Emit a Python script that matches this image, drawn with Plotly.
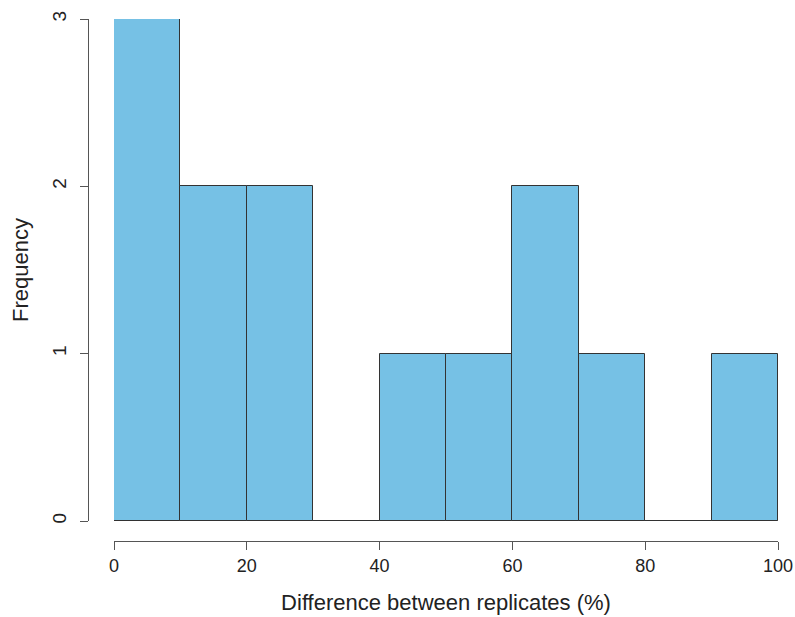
import plotly.graph_objects as go

# Histogram of replicate differences, 10%-wide bins
bin_edges = [0, 10, 20, 30, 40, 50, 60, 70, 80, 90, 100]
counts = [3, 2, 2, 0, 1, 1, 2, 1, 0, 1]
x_ticks = [0, 20, 40, 60, 80, 100]
y_ticks = [0, 1, 2, 3]

centers = [(a + b) / 2 for a, b in zip(bin_edges[:-1], bin_edges[1:])]
widths = [b - a for a, b in zip(bin_edges[:-1], bin_edges[1:])]

FONT = "Liberation Sans, Arial, Helvetica, sans-serif"
AXIS_COL = "#555555"

fig = go.Figure()
fig.add_trace(go.Bar(
    x=centers, y=counts, width=widths,
    marker=dict(color="#76C1E5", line=dict(color="#333333", width=1)),
    showlegend=False, hoverinfo="x+y",
))
# baseline across all bins (empty bins show as a flat edge)
fig.add_trace(go.Scatter(
    x=[bin_edges[0], bin_edges[-1]], y=[0, 0], mode="lines",
    line=dict(color="#333333", width=1), showlegend=False, hoverinfo="skip",
))

W, H = 795, 617
ml, mr, mt, mb = 88, 17, 19, 76
pw = W - ml - mr
ph = H - mt - mb

fig.update_layout(
    width=W, height=H,
    margin=dict(l=ml, r=mr, t=mt, b=mb),
    plot_bgcolor="white", paper_bgcolor="white",
    bargap=0,
    font=dict(family=FONT, size=18, color="#222222"),
    xaxis=dict(
        domain=[26 / pw, 1], anchor="free", position=0,
        automargin=False,
        range=[bin_edges[0], bin_edges[-1]],
        tickvals=x_ticks, ticks="outside", ticklen=8, tickcolor=AXIS_COL,
        showline=True, linecolor=AXIS_COL, linewidth=1,
        showgrid=False, zeroline=False,
        tickfont=dict(size=18),
        title=dict(text="Difference between replicates (%)", font=dict(size=22), standoff=20),
    ),
    yaxis=dict(
        domain=[20 / ph, 1], anchor="free", position=0,
        automargin=False,
        range=[0, 3],
        tickvals=y_ticks, ticks="outside", ticklen=8, tickcolor=AXIS_COL,
        tickangle=-90, ticklabelstandoff=6,
        showline=True, linecolor=AXIS_COL, linewidth=1,
        showgrid=False, zeroline=False,
        tickfont=dict(size=19),
        title=dict(text="Frequency", font=dict(size=22), standoff=13),
    ),
)

fig.write_html("out.html")
